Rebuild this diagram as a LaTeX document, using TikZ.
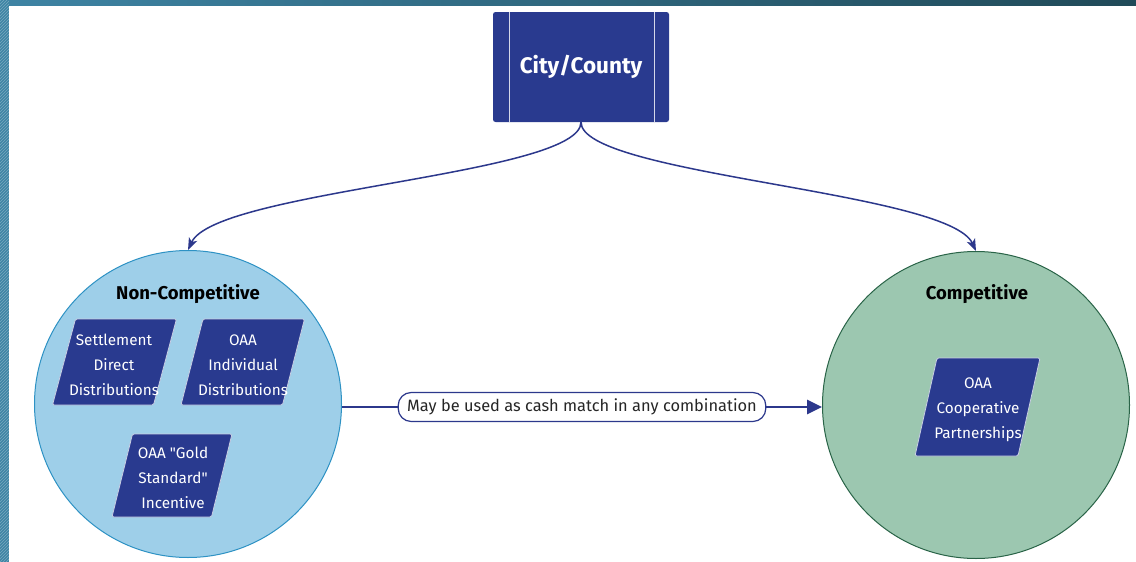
\documentclass[tikz,border=0pt]{standalone}
\usepackage{fontspec}
\setmainfont{Fira Sans}
\newfontfamily\pf{Fira Sans}
\usetikzlibrary{arrows.meta,patterns,calc}
\definecolor{boxblue}{RGB}{41,58,143}
\definecolor{lineblue}{RGB}{44,56,140}
\definecolor{ncfill}{RGB}{158,207,233}
\definecolor{ncdraw}{RGB}{46,146,196}
\definecolor{cfill}{RGB}{156,199,176}
\definecolor{cdraw}{RGB}{42,100,72}
\definecolor{frameA}{RGB}{62,132,164}
\definecolor{frameB}{RGB}{32,74,88}
\newcommand\pgram[5]{% cx, cy, w, h, d
  \filldraw[boxblue, draw=white!75!boxblue, line width=0.8pt, rounded corners=1.5pt]
    ({#1-#3/2+#5/2},{#2-#4/2}) -- ({#1+#3/2+#5/2},{#2-#4/2}) --
    ({#1+#3/2-#5/2},{#2+#4/2}) -- ({#1-#3/2-#5/2},{#2+#4/2}) -- cycle;}
\begin{document}
\begin{tikzpicture}[x=1pt,y=-1pt,
  ptext/.style={text=white, font=\pf\fontsize{15.3}{25}\selectfont, align=center, inner sep=0pt},
  circlabel/.style={font=\pf\fontsize{18.5}{22}\selectfont\bfseries, text=black},
  curvearrow/.style={draw=lineblue, line width=1.5pt, -{Stealth[length=12pt,width=9pt,inset=3pt]}},
  mainline/.style={draw=lineblue, line width=2.6pt},
  bigcircle/.style={circle, minimum size=307pt, inner sep=0pt, line width=1pt}]
\useasboundingbox (0,0) rectangle (1136,562);
\shade[left color=frameA, right color=frameB] (0,0) rectangle (1136,562);
\fill[pattern=north east lines, pattern color=white!30!frameA] (0,0) rectangle (9,562);
\fill[white] (9,6) rectangle (1136,562);

% top box
\node[fill=boxblue, rounded corners=2.5pt, minimum width=176pt, minimum height=110pt, inner sep=0pt,
      text=white, font=\pf\fontsize{22.5}{26}\selectfont\bfseries] (city) at (581,67) {City/County};
\draw[white!80!boxblue, line width=1pt] ($(city.north west)+(17,0)$) -- ($(city.south west)+(17,0)$);
\draw[white!80!boxblue, line width=1pt] ($(city.north east)+(-15,0)$) -- ($(city.south east)+(-15,0)$);

% circles
\node[bigcircle, fill=ncfill, draw=ncdraw] (nc) at (188,404) {};
\node[bigcircle, fill=cfill, draw=cdraw] (comp) at (976,405) {};
\node[circlabel] (nclab) at (188,294) {Non-Competitive};
\node[circlabel] (clab) at (977,294) {Competitive};

% parallelograms
\pgram{114.5}{362}{101}{86}{23}
\node[ptext] (p1) at (114,365) {Settlement\\Direct\\Distributions};
\pgram{242.75}{362}{101.5}{86}{22}
\node[ptext] (p2) at (243,365) {OAA\\Individual\\Distributions};
\pgram{172}{475.5}{99.5}{83}{20.5}
\node[ptext] (p3) at (173,478) {OAA "Gold\\Standard"\\Incentive};
\pgram{977.5}{407}{103}{98}{22}
\node[ptext] (p4) at (978,410) {OAA\\Cooperative\\Partnerships};

% curved arrows
\draw[curvearrow] (city.south) .. controls +(0,53) and +(28,-60) .. (nc.north);
\draw[curvearrow] (city.south) .. controls +(0,53) and +(-28,-60) .. (comp.north);

% label and straight arrow
\node[draw=lineblue, fill=white, rounded corners=13pt, line width=1.2pt, minimum height=29pt,
      inner xsep=9pt, font=\pf\fontsize{16.4}{19}\selectfont, text=black!85] (lbl) at (582,407)
      {May be used as cash match in any combination};
\draw[mainline] (nc.east |- lbl.west) -- (lbl.west);
\draw[mainline, -{Triangle[length=15pt,width=14pt]}] (lbl.east) -- (comp.west |- lbl.east);
\end{tikzpicture}
\end{document}
